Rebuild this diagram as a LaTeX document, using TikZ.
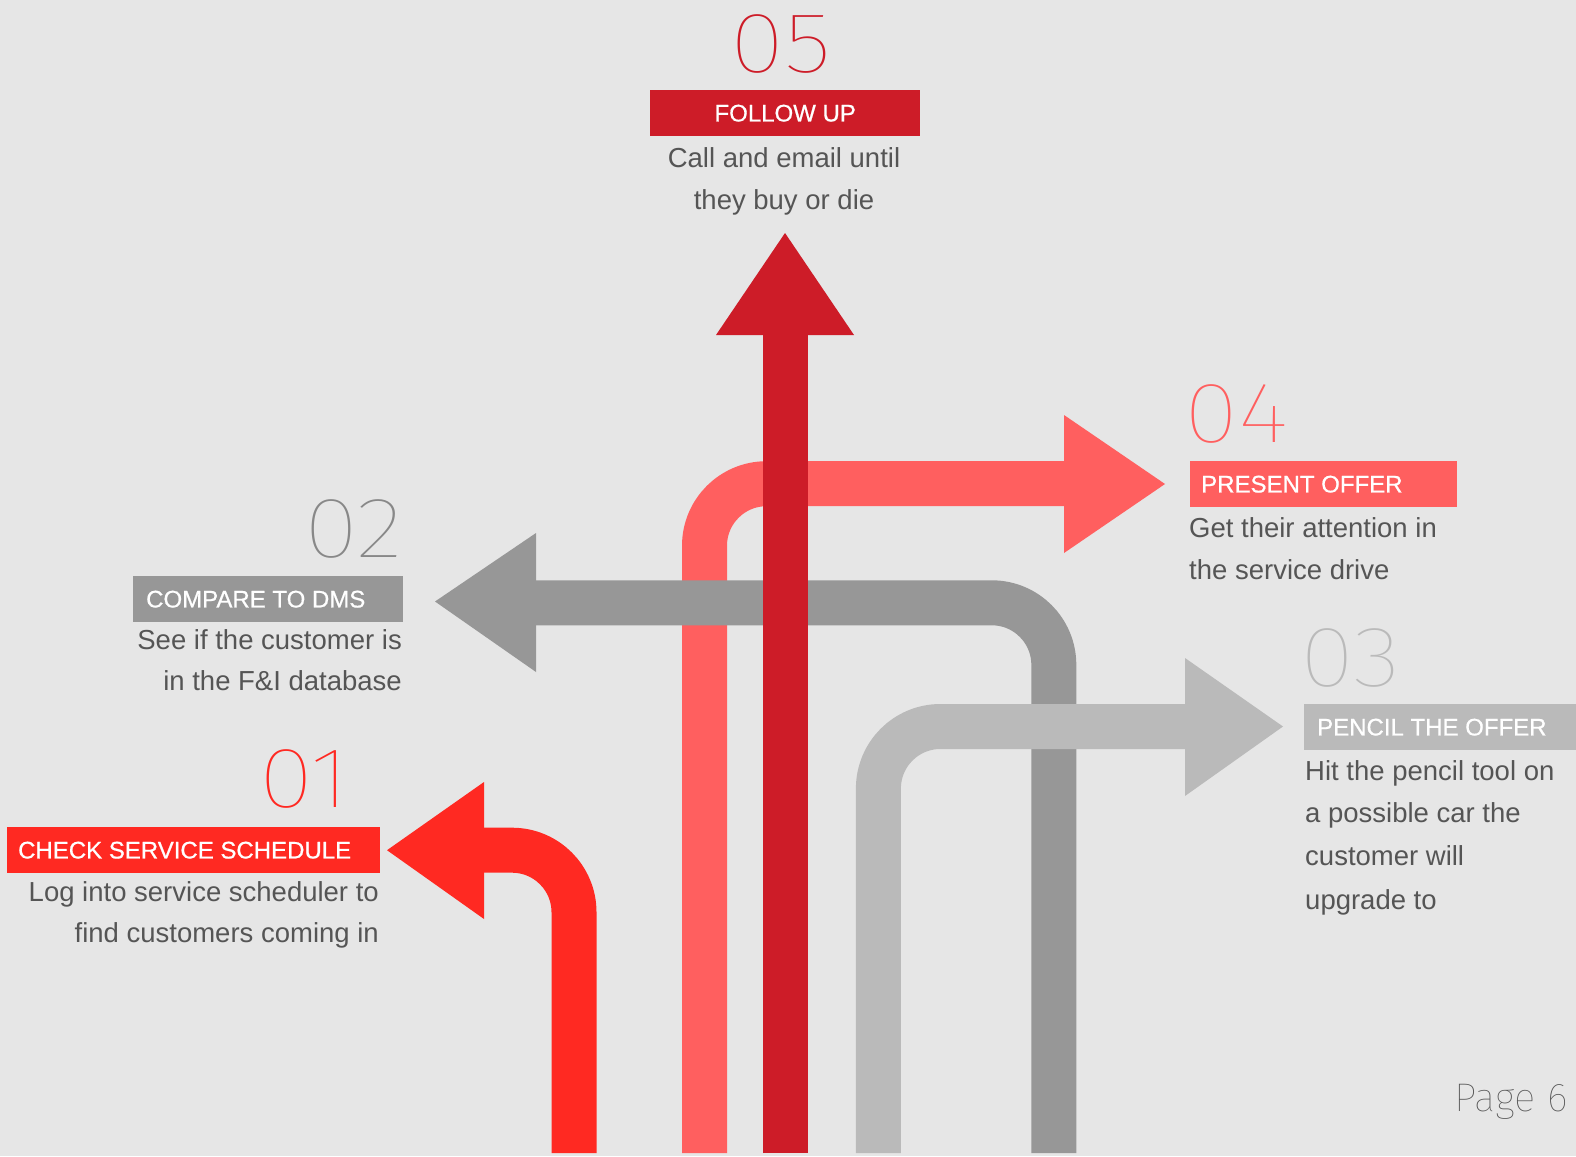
\documentclass[tikz,border=0pt]{standalone}
\usepackage{fontspec}
\setmainfont{Liberation Sans}
\newfontfamily\labfont[FakeBold=0.7]{Liberation Sans}
\IfFontExistsTF{Fira Sans Thin}{\newfontfamily\thinfont[FakeStretch=1.16]{Fira Sans Thin}\newfontfamily\pagefont{Fira Sans Thin}}{%
 \IfFontExistsTF{Fira Sans ExtraLight}{\newfontfamily\thinfont[FakeStretch=1.16]{Fira Sans ExtraLight}\newfontfamily\pagefont{Fira Sans ExtraLight}}{%
  \IfFontExistsTF{Fira Sans Light}{\newfontfamily\thinfont[FakeStretch=1.16]{Fira Sans Light}\newfontfamily\pagefont{Fira Sans Light}}{%
   \IfFontExistsTF{DejaVu Sans ExtraLight}{\newfontfamily\thinfont{DejaVu Sans ExtraLight}\newfontfamily\pagefont{DejaVu Sans ExtraLight}}{%
    \newfontfamily\thinfont{Liberation Sans}\newfontfamily\pagefont{Liberation Sans}}}}}
\definecolor{bg}{HTML}{E6E6E6}
\definecolor{cfive}{HTML}{CD1C28}
\definecolor{cfour}{HTML}{FF5F5F}
\definecolor{ctwo}{HTML}{979797}
\definecolor{cthree}{HTML}{BABABA}
\definecolor{cone}{HTML}{FF2922}
\definecolor{txt}{HTML}{555555}
\begin{document}
\begin{tikzpicture}[x=1pt,y=-1pt,
  shaft/.style={line width=45pt, rounded corners=62pt},
  num/.style={font=\thinfont\fontsize{86}{86}\selectfont, inner sep=0pt},
  lab/.style={font=\labfont\fontsize{24}{24}\selectfont, text=white, inner sep=0pt},
  labbox/.style={inner sep=0pt, minimum height=46pt, anchor=north west},
  desc/.style={font=\fontsize{27.5}{42}\selectfont, text=txt, inner sep=0pt}]
\fill[bg] (0,0) rectangle (1576,1156);
\useasboundingbox (0,0) rectangle (1576,1156);

% coordinates
\coordinate (s4) at (704.5,1153); \coordinate (k4) at (704.5,483.7); \coordinate (e4) at (1064,483.7);
\coordinate (s2) at (1053.8,1153); \coordinate (k2) at (1053.8,602.8); \coordinate (e2) at (536,602.8);
\coordinate (s3) at (878.4,1153); \coordinate (k3) at (878.4,726.5); \coordinate (e3) at (1185,726.5);
\coordinate (s5) at (785.5,1153); \coordinate (e5) at (785.5,335);
\coordinate (s1) at (574,1153); \coordinate (k1) at (574,850.2); \coordinate (e1) at (484,850.2);

% 04 pink
\draw[shaft, cfour] (s4) -- (k4) -- (e4);
\fill[cfour] (1064,415) -- (1165,484) -- (1064,553) -- cycle;
% 02 dark gray
\draw[shaft, ctwo] (s2) -- (k2) -- (e2);
\fill[ctwo] (536,533) -- (435,601.5) -- (536,672) -- cycle;
% 03 light gray
\draw[shaft, cthree] (s3) -- (k3) -- (e3);
\fill[cthree] (1185,658) -- (1283,726.5) -- (1185,796) -- cycle;
% 05 dark red
\draw[line width=45pt, cfive] (s5) -- (e5);
\fill[cfive] (716,335) -- (785,233) -- (854,335) -- cycle;
% 01 red
\draw[shaft, cone] (s1) -- (k1) -- (e1);
\fill[cone] (484,782) -- (387,850.2) -- (484,919) -- cycle;

% 05 text
\node[num, text=cfive, anchor=base] (n5) at (781,73) {05};
\node[labbox, fill=cfive, minimum width=270pt] (b5) at (650,90) {};
\node[lab] (t5) at (b5.center) {FOLLOW UP};
\node[desc, anchor=base] (d5a) at (784,167) {Call and email until};
\node[desc, anchor=base] (d5b) at (784,209) {they buy or die};

% 04 text
\node[num, text=cfour, anchor=base west] (n4) at (1184,442) {04};
\node[labbox, fill=cfour, minimum width=267pt] (b4) at (1190,461) {};
\node[lab, anchor=west] (t4) at ([xshift=11pt]b4.west) {PRESENT OFFER};
\node[desc, anchor=base west] (d4a) at (1189,537) {Get their attention in};
\node[desc, anchor=base west] (d4b) at (1189,579) {the service drive};

% 02 text
\node[num, text=ctwo!90!black, anchor=base east] (n2) at (403,557) {02};
\node[labbox, fill=ctwo, minimum width=270pt] (b2) at (133,576) {};
\node[lab, anchor=west] (t2) at ([xshift=13pt]b2.west) {COMPARE TO DMS};
\node[desc, anchor=base east] (d2a) at (402,649) {See if the customer is};
\node[desc, anchor=base east] (d2b) at (402,690) {in the F\&I database};

% 03 text
\node[num, text=cthree, anchor=base west] (n3) at (1300,686) {03};
\node[labbox, fill=cthree, minimum width=272pt] (b3) at (1304,704) {};
\node[lab, anchor=west] (t3) at ([xshift=13pt]b3.west) {PENCIL THE OFFER};
\node[desc, anchor=base west] (d3a) at (1305,780) {Hit the pencil tool on};
\node[desc, anchor=base west] (d3b) at (1305,822) {a possible car the};
\node[desc, anchor=base west] (d3c) at (1305,865) {customer will};
\node[desc, anchor=base west] (d3d) at (1305,909) {upgrade to};

% 01 text
\node[num, text=cone, anchor=base east] (n1) at (350,807) {01};
\node[labbox, fill=cone, minimum width=373pt] (b1) at (7,827) {};
\node[lab, anchor=west] (t1) at ([xshift=11pt]b1.west) {CHECK SERVICE SCHEDULE};
\node[desc, anchor=base east] (d1a) at (379,901) {Log into service scheduler to};
\node[desc, anchor=base east] (d1b) at (379,942) {find customers coming in};

% page number
\node[font=\pagefont\fontsize{40}{40}\selectfont, text=txt, inner sep=0pt, anchor=base east] (pg) at (1568,1111) {Page 6};
\end{tikzpicture}
\end{document}
